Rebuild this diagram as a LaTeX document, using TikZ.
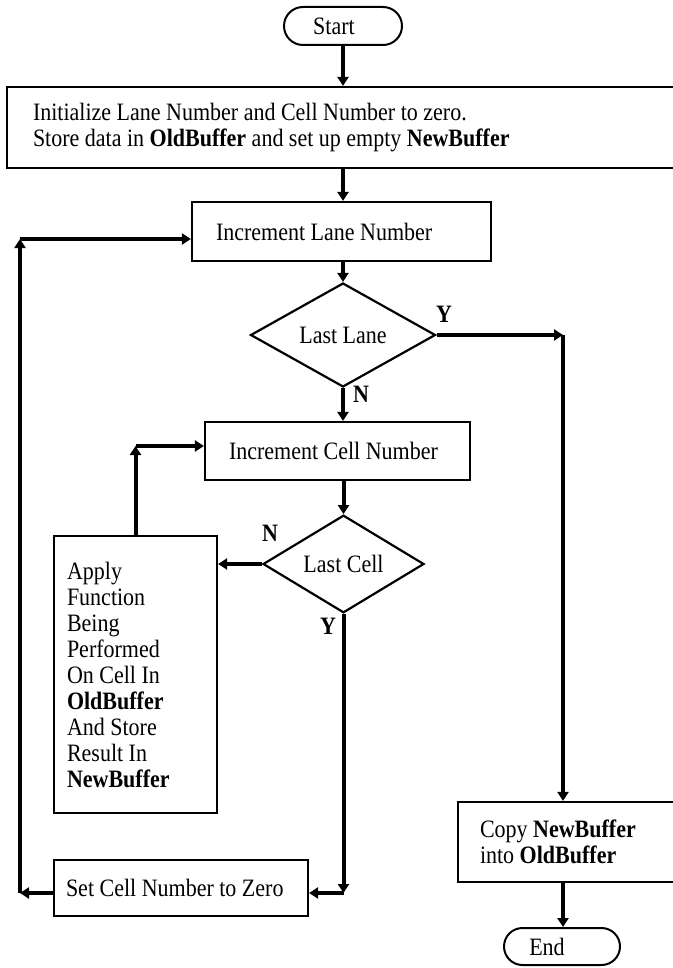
\documentclass[tikz,border=0pt]{standalone}
\usepackage{fontspec}
\setmainfont{Liberation Serif}[FakeStretch=0.88]
\usepackage{tikz}
\usetikzlibrary{shapes.geometric, shapes.misc, arrows.meta}
\tikzstyle{terminal}=[rounded rectangle, draw, line width=2pt, inner sep=0pt]
\tikzstyle{process}=[rectangle, draw, line width=2.2pt, align=flush left, inner ysep=0pt]
\tikzstyle{decision}=[diamond, draw, line width=2.2pt, inner sep=0pt]
\tikzstyle{answer}=[font=\fontsize{25}{26}\selectfont\bfseries]
\tikzstyle{flow}=[line width=4pt, -{Triangle[length=9pt, width=11pt]}]

\begin{document}
\begin{tikzpicture}[x=1pt, y=-1pt, font=\fontsize{25}{26}\selectfont]
                \useasboundingbox (0,0) rectangle (672,968);
                \node[terminal, minimum width=118pt, minimum height=38pt] (start) at (343,26) {Start\hspace*{18pt}};
                \node[process, text width=624pt, inner xsep=26pt, minimum height=81pt] (init) at (345,127.5)
                    {Initialize Lane Number and Cell Number to zero.\\
                     Store data in \textbf{OldBuffer} and set up empty \textbf{NewBuffer}};
                \node[process, text width=251pt, inner xsep=24pt, minimum height=59pt] (inclane) at (341.5,231.5) {Increment Lane Number};
                \node[decision, minimum width=185pt, minimum height=76pt] (lastlane) at (343,335) {Last Lane};
                \node[process, text width=217pt, inner xsep=24pt, minimum height=58pt] (inccell) at (337.5,451) {Increment Cell Number};
                \node[decision, minimum width=161pt, minimum height=76pt] (lastcell) at (343.5,564) {Last Cell};
                \node[process, text width=137pt, inner xsep=13pt, minimum height=277pt] (apply) at (135.5,674.5)
                    {Apply\\Function\\Being\\Performed\\On Cell In\\\textbf{OldBuffer}\\And Store\\Result In\\\textbf{NewBuffer}};
                \node[process, text width=230pt, inner xsep=12pt, minimum height=56pt] (setcell) at (181,888) {Set Cell Number to Zero};
                \node[process, text width=188pt, inner xsep=22pt, minimum height=80pt] (copy) at (574,842)
                    {Copy \textbf{NewBuffer}\\into \textbf{OldBuffer}};
                \node[terminal, minimum width=116pt, minimum height=37pt] (end) at (562,946.5) {End\hspace*{30pt}};
                % answers on the decision branches
                \node[answer] (laney) at (444,314) {Y};
                \node[answer] (lanen) at (361,394) {N};
                \node[answer] (celln) at (270,533) {N};
                \node[answer] (celly) at (328,626) {Y};
                % corners of the loops
                \coordinate (yturn) at (563,335);
                \coordinate (applyup) at (135.5,446);
                \coordinate (ydown) at (343.5,893);
                \coordinate (back) at (20,893);
                \coordinate (backup) at (20,239);
                \draw[flow] (start.south) -- (start.south |- init.north);
                \draw[flow] (start.south |- init.south) -- (start.south |- inclane.north);
                \draw[flow] (inclane.south -| lastlane) -- (lastlane.north);
                \draw[flow] (lastlane.south) -- (lastlane.south |- inccell.north);
                \draw[flow] (inccell.south -| lastcell) -- (lastcell.north);
                \draw[flow] (lastlane.east) -- (yturn);
                \draw[flow] (yturn) -- (yturn |- copy.north);
                \draw[flow] (yturn |- copy.south) -- (yturn |- end.north);
                \draw[flow] (lastcell.west) -- (lastcell.west -| apply.east);
                \draw[flow] (apply.north) -- (applyup);
                \draw[flow] (applyup) -- (applyup -| inccell.west);
                \draw[flow] (lastcell.south) -- (ydown);
                \draw[flow] (ydown) -- (ydown -| setcell.east);
                \draw[flow] (ydown -| setcell.west) -- (back);
                \draw[flow] (back) -- (backup);
                \draw[flow] (backup) -- (backup -| inclane.west);
            \end{tikzpicture}
\end{document}
